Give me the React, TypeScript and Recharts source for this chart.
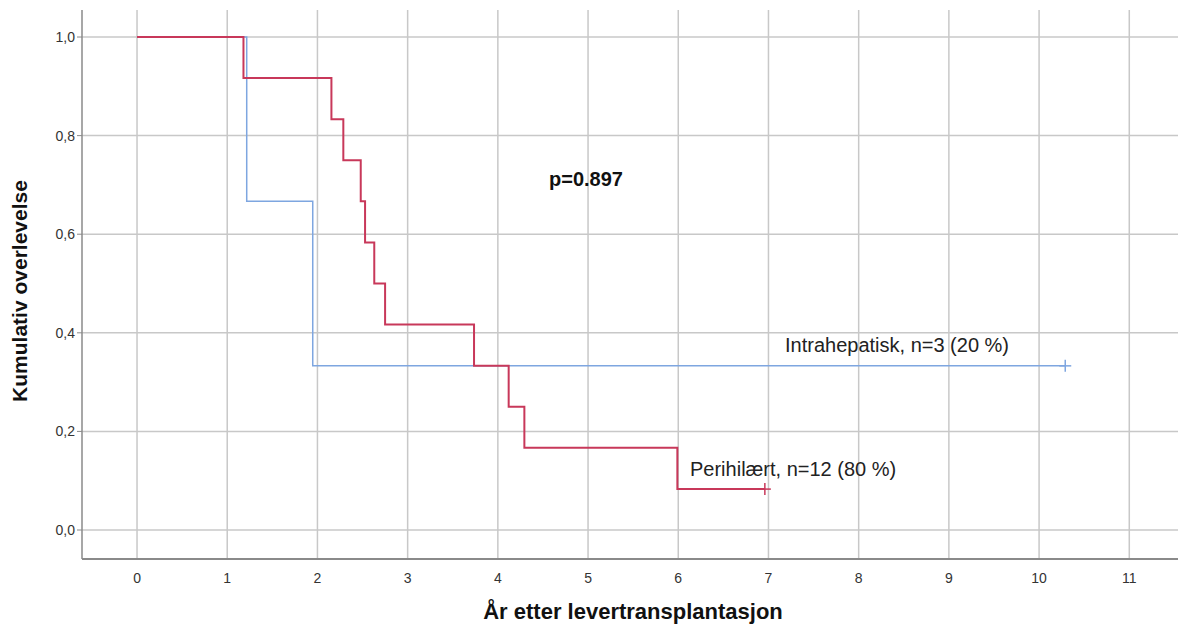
import React from 'react';
import { ComposedChart, Line, Scatter, XAxis, YAxis, CartesianGrid } from 'recharts';

const periTimes = [0, 1.18, 2.155, 2.287, 2.48, 2.528, 2.63, 2.75, 3.736, 4.12, 4.294, 5.99, 6.96];
const periSurv = [1, 0.917, 0.833, 0.75, 0.667, 0.583, 0.5, 0.417, 0.333, 0.25, 0.167, 0.083, 0.083];
const intraTimes = [0, 1.216, 1.948, 10.29];
const intraSurv = [1, 0.667, 0.333, 0.333];
const periCensor = [{ t: 6.96, s: 0.083 }];
const intraCensor = [{ t: 10.29, s: 0.333 }];
const xTicks = [0, 1, 2, 3, 4, 5, 6, 7, 8, 9, 10, 11];
const yTicks = [0, 0.2, 0.4, 0.6, 0.8, 1.0];

const periData = periTimes.map((t, i) => ({ t, s: periSurv[i] }));
const intraData = intraTimes.map((t, i) => ({ t, s: intraSurv[i] }));

const RED = '#c8385a';
const BLUE = '#7ea6e0';
const FONT = '"Liberation Sans", Arial, sans-serif';

const Plus = (color: string) => (props: any) => {
  const { cx, cy } = props;
  if (cx == null || cy == null) return <g />;
  return (
    <g>
      <line x1={cx - 6} x2={cx + 6} y1={cy} y2={cy} stroke={color} strokeWidth={1.5} />
      <line x1={cx} x2={cx} y1={cy - 6} y2={cy + 6} stroke={color} strokeWidth={1.5} />
    </g>
  );
};

export default function App() {
  return (
    <div style={{ position: 'absolute', left: 0, top: 0, width: 1178, height: 630, background: '#fff', fontFamily: FONT }}>
      <ComposedChart width={1178} height={630} margin={{ top: 10, right: 0, left: 0, bottom: 0 }}>
        <CartesianGrid stroke="#c8c8c8" strokeWidth={1.5} horizontalValues={yTicks} verticalValues={xTicks} />
        <XAxis
          type="number"
          dataKey="t"
          domain={[-0.61, 11.54]}
          ticks={xTicks}
          allowDataOverflow
          tickLine={false}
          axisLine={{ stroke: '#8a8a8a', strokeWidth: 2 }}
          tick={{ fontSize: 14, fill: '#333', fontFamily: FONT }}
          tickMargin={8}
          height={71}
        />
        <YAxis
          type="number"
          dataKey="s"
          domain={[-0.0588, 1.0548]}
          ticks={yTicks}
          allowDataOverflow
          width={82}
          tickSize={5}
          tickLine={{ stroke: '#8a8a8a' }}
          axisLine={{ stroke: '#8a8a8a', strokeWidth: 1.5 }}
          tick={{ fontSize: 14, fill: '#333', fontFamily: FONT }}
          tickFormatter={(v: number) => v.toFixed(1).replace('.', ',')}
        />
        <Line data={intraData} dataKey="s" type="stepAfter" stroke={BLUE} strokeWidth={1.5} dot={false} isAnimationActive={false} />
        <Line data={periData} dataKey="s" type="stepAfter" stroke={RED} strokeWidth={2} dot={false} isAnimationActive={false} />
        <Scatter data={intraCensor} dataKey="s" shape={Plus(BLUE)} isAnimationActive={false} />
        <Scatter data={periCensor} dataKey="s" shape={Plus(RED)} isAnimationActive={false} />
      </ComposedChart>
      <div style={{ position: 'absolute', left: 549, top: 168, fontSize: 20, fontWeight: 'bold', color: '#111', whiteSpace: 'nowrap' }}>p=0.897</div>
      <div style={{ position: 'absolute', left: 785, top: 334, fontSize: 20, color: '#222', whiteSpace: 'nowrap' }}>Intrahepatisk, n=3 (20 %)</div>
      <div style={{ position: 'absolute', left: 690, top: 458, fontSize: 20, color: '#222', whiteSpace: 'nowrap' }}>Perihilært, n=12 (80 %)</div>
      <div style={{ position: 'absolute', left: 633, top: 612, transform: 'translate(-50%, -50%)', fontSize: 22, fontWeight: 'bold', color: '#111', whiteSpace: 'nowrap' }}>År etter levertransplantasjon</div>
      <div style={{ position: 'absolute', left: 20, top: 291, transform: 'translate(-50%, -50%) rotate(-90deg)', fontSize: 21, fontWeight: 'bold', color: '#111', whiteSpace: 'nowrap' }}>Kumulativ overlevelse</div>
    </div>
  );
}
